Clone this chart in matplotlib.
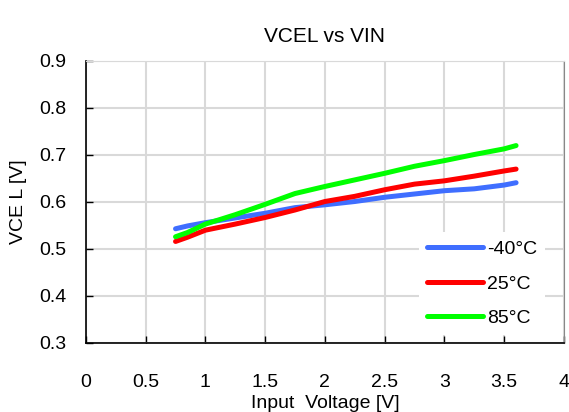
import matplotlib
matplotlib.use("Agg")
import matplotlib.pyplot as plt

plt.rcParams['font.family'] = ['Liberation Sans', 'DejaVu Sans']

# input voltage [V]
vin = [0.75, 0.85, 1.0, 1.25, 1.5, 1.75, 2.0, 2.25, 2.5, 2.75, 3.0, 3.25, 3.5, 3.6]
# VCEL [V] for each temperature
vcel_m40 = [0.543, 0.549, 0.556, 0.566, 0.576, 0.588, 0.594, 0.601, 0.610, 0.617, 0.624, 0.628, 0.636, 0.641]
vcel_25 = [0.516, 0.525, 0.540, 0.553, 0.567, 0.583, 0.601, 0.612, 0.626, 0.638, 0.645, 0.655, 0.666, 0.670]
vcel_85 = [0.526, 0.535, 0.553, 0.573, 0.595, 0.618, 0.633, 0.647, 0.661, 0.676, 0.688, 0.701, 0.713, 0.720]
labels = ['-40°C', '25°C', '85°C']
xticks = [0, 0.5, 1, 1.5, 2, 2.5, 3, 3.5, 4]
xticklabels = ['0', '0.5', '1', '1.5', '2', '2.5', '3', '3.5', '4']
yticks = [0.3, 0.4, 0.5, 0.6, 0.7, 0.8, 0.9]

fig = plt.figure(figsize=(5.69, 4.12), dpi=100)
ax = fig.add_axes([0.151, 0.1675, 0.84, 0.6845])

ax.plot(vin, vcel_m40, color='#3F6EFF', lw=3.6, label=labels[0], solid_capstyle='round')
ax.plot(vin, vcel_25, color='#FF0000', lw=3.6, label=labels[1], solid_capstyle='round')
ax.plot(vin, vcel_85, color='#00FF00', lw=3.6, label=labels[2], solid_capstyle='round')

ax.set_xlim(0, 4)
ax.set_ylim(0.3, 0.9)
ax.set_xticks(xticks)
ax.set_xticklabels(xticklabels)
ax.set_yticks(yticks)
ax.set_yticklabels(['%.1f' % v for v in yticks])
ax.grid(True, color='#D9D9D9', lw=1.5)
ax.set_axisbelow(True)

ax.tick_params(axis='x', direction='in', length=5, pad=22, labelsize=14, width=1)
ax.tick_params(axis='y', direction='in', length=5, pad=14, labelsize=14, width=1)

for s in ['left', 'bottom']:
    ax.spines[s].set_color('black')
    ax.spines[s].set_linewidth(1.2)
ax.spines['top'].set_color('#D9D9D9')
ax.spines['right'].set_color('#888888')

ax.set_title('VCEL vs VIN', fontsize=15, pad=14)
ax.set_xlabel('Input  Voltage [V]', fontsize=14, labelpad=3)
ax.set_ylabel('VCE L [V]', fontsize=14, labelpad=9)

leg = ax.legend(loc='center left', bbox_to_anchor=(0.697, 0.21), fontsize=14,
                frameon=True, facecolor='white', edgecolor='none', framealpha=1,
                fancybox=False, handlelength=2.9, handletextpad=0.2,
                labelspacing=0.88, borderaxespad=0)

fig.savefig('out.png', dpi=100)
